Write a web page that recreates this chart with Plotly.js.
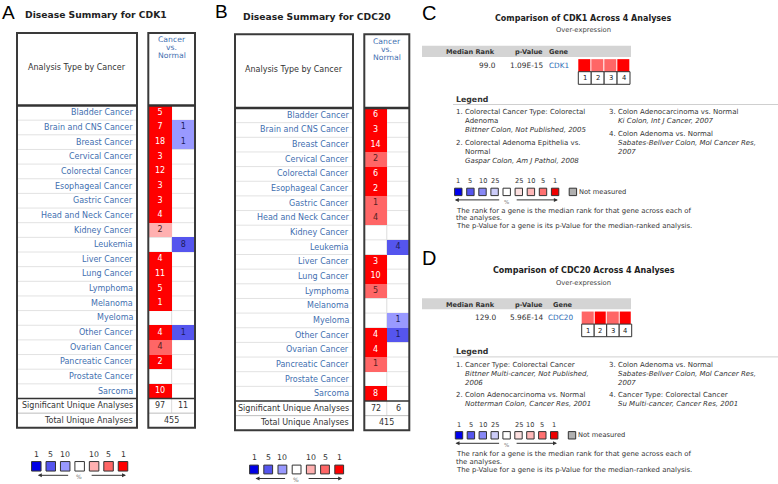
<!DOCTYPE html>
<html><head><meta charset="utf-8">
<script src="https://cdn.plot.ly/plotly-3.0.1.min.js"></script>
<style>html,body{margin:0;padding:0;background:#fff}#chart{width:778px;height:484px}</style>
</head><body><div id="chart"></div>
<script>
// ================= DATA =================
const cancers = ["Bladder Cancer","Brain and CNS Cancer","Breast Cancer","Cervical Cancer","Colorectal Cancer",
  "Esophageal Cancer","Gastric Cancer","Head and Neck Cancer","Kidney Cancer","Leukemia","Liver Cancer",
  "Lung Cancer","Lymphoma","Melanoma","Myeloma","Other Cancer","Ovarian Cancer","Pancreatic Cancer",
  "Prostate Cancer","Sarcoma"];

// CDK1: number of analyses (over / under expressed) and best gene-rank threshold (%)
const cdk1UpCount  = [5,7,18,3,12,3,3,4,2,null,4,11,5,1,null,4,4,2,null,10];
const cdk1UpRank   = [1,1,1,1,1,1,1,1,10,null,1,1,1,1,null,1,5,1,null,1];
const cdk1DownCount= [null,1,1,null,null,null,null,null,null,8,null,null,null,null,null,1,null,null,null,null];
const cdk1DownRank = [null,10,10,null,null,null,null,null,null,5,null,null,null,null,null,5,null,null,null,null];
const cdk1Significant = [97, 11];
const cdk1Total = 455;

// CDC20
const cdc20UpCount  = [6,3,14,2,6,2,1,4,null,null,3,10,5,null,null,4,4,1,null,8];
const cdc20UpRank   = [1,1,1,5,1,1,5,5,null,null,1,1,5,null,null,1,1,5,null,1];
const cdc20DownCount= [null,null,null,null,null,null,null,null,null,4,null,null,null,null,1,1,null,null,null,null];
const cdc20DownRank = [null,null,null,null,null,null,null,null,null,5,null,null,null,null,10,5,null,null,null,null];
const cdc20Significant = [72, 6];
const cdc20Total = 415;

// summary colour key
const summaryKeyLabels = ["1","5","10","","10","5","1"];
const summaryKeyColors = ["#0000e6","#5555ee","#9999ff","#ffffff","#ffb0b0","#ff6666","#ff0000"];

// comparison panels
const analysisIds = [1,2,3,4];
const cdk1AnalysisRank  = [1,5,5,1];
const cdc20AnalysisRank = [5,1,5,1];
const cdk1MedianRank = "99.0",  cdk1PValue = "1.09E-15";
const cdc20MedianRank = "129.0", cdc20PValue = "5.96E-14";
const cdk1AnalysisNames = [["Colorectal Cancer Type: Colorectal","Adenoma"],["Colorectal Adenoma Epithelia vs.","Normal"],["Colon Adenocarcinoma vs. Normal"],["Colon Adenoma vs. Normal"]];
const cdk1AnalysisRefs  = [["Bittner Colon, Not Published, 2005"],["Gaspar Colon, Am J Pathol, 2008"],["Ki Colon, Int J Cancer, 2007"],["Sabates-Bellver Colon, Mol Cancer Res,","2007"]];
const cdc20AnalysisNames = [["Cancer Type: Colorectal Cancer"],["Colon Adenocarcinoma vs. Normal"],["Colon Adenoma vs. Normal"],["Cancer Type: Colorectal Cancer"]];
const cdc20AnalysisRefs  = [["Bittner Multi-cancer, Not Published,","2006"],["Notterman Colon, Cancer Res, 2001"],["Sabates-Bellver Colon, Mol Cancer Res,","2007"],["Su Multi-cancer, Cancer Res, 2001"]];
const compareKeyLabels = ["1","5","10","25","","25","10","5","1"];
const compareKeyColors = ["#0000ee","#5555ee","#8888f5","#ccccf8","#ffffff","#fde0e0","#ffb8b8","#ff7070","#ee0000"];
const notMeasuredColor = "#b0b0b0";
const footNotes = ["The rank for a gene is the median rank for that gene across each of","the analyses.","The p-Value for a gene is its p-Value for the median-ranked analysis."];

// ================= DRAWING =================
const FONT = "DejaVu Sans, Verdana, sans-serif";
const BLUE = "#3f6fb0";
const DARK = "#333333";
const PAL = ["#0000ee","#5555ee","#9999ff","#ffffff","#ffb0b0","#ff6666","#ff0000"];
const codeOf = (dir, rank) => rank == null ? null : (dir === "up" ? {1:6,5:5,10:4}[rank] : {1:0,5:1,10:2}[rank]) + 0.5;
const stepScale = [];
PAL.forEach((c,i)=>{ stepScale.push([i/PAL.length,c]); stepScale.push([(i+1)/PAL.length,c]); });

const traces = [], shapes = [], annotations = [];
function txt(x,y,text,size,color,xa,family){
  annotations.push({x:x,y:y,xref:"x",yref:"y",text:text,showarrow:false,xanchor:xa||"left",yanchor:"middle",
    borderpad:0,borderwidth:0,font:{family:family||FONT,size:size,color:color}});
}
function line(x0,y0,x1,y1,color,width,layer){
  shapes.push({type:"line",xref:"x",yref:"y",x0:x0,y0:y0,x1:x1,y1:y1,line:{color:color,width:width},layer:layer||"above"});
}
function rect(x0,y0,x1,y1,lc,lw,fill,layer){
  shapes.push({type:"rect",xref:"x",yref:"y",x0:x0,y0:y0,x1:x1,y1:y1,line:{color:lc,width:lw},fillcolor:fill||"rgba(0,0,0,0)",layer:layer||"above"});
}
function arrow(hx,hy,tx,ty){
  annotations.push({x:hx,y:hy,ax:tx,ay:ty,xref:"x",yref:"y",axref:"x",ayref:"y",text:"",showarrow:true,
    arrowhead:2,arrowsize:0.8,arrowwidth:1,arrowcolor:DARK});
}

function summary(P, title, letter, up, upRank, down, downRank, sig, total){
  const n = cancers.length, h = P.rowH;
  const end = P.hdr + n*h, bottom = end + 2*h;
  const rc = i => P.hdr + (i+0.5)*h;
  const dx = (P.rx1 - P.rx0)/2;
  const cRed = P.rx0 + dx/2, cBlue = P.rx0 + 1.5*dx;
  txt(P.letterX, P.letterY, letter, 19, "#000", "left", "Liberation Sans, Arial, sans-serif");
  txt(P.titleX, P.titleY, "<b>"+title+"</b>", 9.2, "#222");
  for (let i=1;i<n;i++){ const y=P.hdr+i*h; line(P.lx0,y,P.lx1,y,"#e2e2e2",1,"below"); line(P.rx0,y,P.rx1,y,"#e2e2e2",1,"below"); }
  line(P.lx0,end+h,P.lx1,end+h,"#bdbdbd",1); line(P.rx0,end+h,P.rx1,end+h,"#bdbdbd",1);
  line(P.rx0+dx,P.hdr,P.rx0+dx,end+h,"#dcdcdc",1,"below");
  traces.push({type:"heatmap",x0:cRed,dx:dx,y0:rc(0),dy:h,
    z: cancers.map((_,i)=>[codeOf("up",upRank[i]), codeOf("down",downRank[i])]),
    colorscale:stepScale,zmin:0,zmax:PAL.length,showscale:false,hoverinfo:"skip"});
  const tx=[],ty=[],tt=[],tc=[];
  cancers.forEach((_,i)=>{
    if (up[i]!=null){ tx.push(cRed); ty.push(rc(i)); tt.push(String(up[i])); tc.push(upRank[i]===1?"#ffffff":"#552222"); }
    if (down[i]!=null){ tx.push(cBlue); ty.push(rc(i)); tt.push(String(down[i])); tc.push("#1c1c5a"); }
  });
  traces.push({type:"scatter",mode:"text",x:tx,y:ty,text:tt,textposition:"middle center",
    textfont:{family:FONT,size:8,color:tc},hoverinfo:"skip",cliponaxis:false});
  rect(P.lx0,P.top,P.lx1,bottom,"#3a3a3a",2); rect(P.rx0,P.top,P.rx1,bottom,"#3a3a3a",2);
  line(P.lx0,P.hdr,P.lx1,P.hdr,"#333",2.5); line(P.rx0,P.hdr,P.rx1,P.hdr,"#333",2.5);
  line(P.lx0,end,P.lx1,end,"#333",1.5); line(P.rx0,end,P.rx1,end,"#333",1.5);
  txt((P.lx0+P.lx1)/2, P.hdrTextY, "Analysis Type by Cancer", 8, DARK, "center");
  ["Cancer","vs.","Normal"].forEach((s,k)=>txt(P.rx0+dx, P.cvnY+k*8, s, 7.7, BLUE, "center"));
  cancers.forEach((c,i)=>txt(P.labelR, rc(i), c, 8, BLUE, "right"));
  txt(P.labelR, end+h/2, "Significant Unique Analyses", 8, DARK, "right");
  txt(cRed, end+h/2, String(sig[0]), 8, DARK, "center");
  txt(cBlue, end+h/2, String(sig[1]), 8, DARK, "center");
  txt(P.labelR, end+1.5*h, "Total Unique Analyses", 8, DARK, "right");
  txt(P.rx0+dx, end+1.5*h, String(total), 8, DARK, "center");
  // colour key
  const kx = summaryKeyColors.map((_,i)=>P.keyX0 + i*P.keyStep);
  traces.push({type:"scatter",mode:"markers",x:kx,y:kx.map(()=>P.keyY),
    marker:{symbol:"square",size:P.keySize,color:summaryKeyColors,line:{color:"#333",width:1}},hoverinfo:"skip",cliponaxis:false});
  summaryKeyLabels.forEach((s,i)=>{ if(s) txt(kx[i], P.keyY-12.3, s, 7.8, DARK, "center"); });
  const ay = P.keyY + 9;
  arrow(kx[0]+1.5, ay, kx[3]-10, ay);
  arrow(kx[6]+3, ay, kx[3]+10.5, ay);
  txt(kx[3]-0.5, ay+1.3, "%", 6, "#777", "center");
}

summary({letterX:2,letterY:12,titleX:25,titleY:14,lx0:17,lx1:137,rx0:148.3,rx1:195,top:33,hdr:105.5,rowH:14.65,
  labelR:133,hdrTextY:67.5,cvnY:39.7,keyX0:36.3,keyStep:14.45,keyY:466.3,keySize:9.5},
  "Disease Summary for CDK1","A",cdk1UpCount,cdk1UpRank,cdk1DownCount,cdk1DownRank,cdk1Significant,cdk1Total);
summary({letterX:215,letterY:11,titleX:243.3,titleY:16,lx0:235,lx1:353,rx0:364.3,rx1:409.3,top:34.3,hdr:108,rowH:14.65,
  labelR:349.3,hdrTextY:69.3,cvnY:41.3,keyX0:254,keyStep:14.2,keyY:469.5,keySize:8.8},
  "Disease Summary for CDC20","B",cdc20UpCount,cdc20UpRank,cdc20DownCount,cdc20DownRank,cdc20Significant,cdc20Total);

function compare(P, gene, median, pval, ranks, names, refs, letter){
  const T = P.T;
  txt(P.letterX, P.letterY, letter, 20, "#000", "left", "Liberation Sans, Arial, sans-serif");
  txt(583.5, T, "<b>Comparison of "+gene+" Across 4 Analyses</b>", 8, "#222", "center");
  txt(583.5, T+11.8, "Over-expression", 6.8, "#444", "center");
  rect(422, T+27.5, 631, T+38.6, "rgba(0,0,0,0)", 0, "#d4d4d4", "below");
  txt(494.8, T+34, "<b>Median Rank</b>", 6.6, DARK, "right");
  txt(543.3, T+34, "<b>p-Value</b>", 6.6, DARK, "right");
  txt(P.geneR, T+34, "<b>Gene</b>", 6.6, DARK, "right");
  txt(495.8, T+47.2, median, 7.4, DARK, "right");
  txt(543.3, T+47.2, pval, 7.4, DARK, "right");
  txt(P.geneR, T+47.2, gene, 7.3, "#2e6cb5", "right");
  const cw = (P.cellX1 - P.cellX0)/analysisIds.length;
  traces.push({type:"heatmap",x0:P.cellX0+cw/2,dx:cw,y0:T+47.1,dy:12.5,xgap:1,
    z:[ranks.map(r=>codeOf("up",r))],colorscale:stepScale,zmin:0,zmax:PAL.length,showscale:false,hoverinfo:"skip"});
  analysisIds.forEach((id,i)=>{
    rect(P.cellX0+i*cw, T+53.4, P.cellX0+(i+1)*cw, T+66, "#333", 1, "#fff");
    txt(P.cellX0+(i+0.5)*cw, T+59.8, String(id), 6.8, "#222", "center");
  });
  txt(456, T+80.8, "<b>Legend</b>", 7.8, DARK, "left");
  line(453, T+86.2, 778, T+86.2, "#cfcfcf", 1);
  const colX = [455.5, 609], LS = 9, GAP = 12.3;
  let last = 0;
  [[0,1],[2,3]].forEach((idx,col)=>{
    let y = T+94;
    idx.forEach((k,j)=>{
      if (j>0) y += GAP - LS;
      names[k].forEach((s,m)=>{ txt(m===0?colX[col]:colX[col]+9, y, m===0?(k+1)+". "+s:s, 7, DARK, "left"); y += LS; });
      refs[k].forEach(s=>{ txt(colX[col]+9, y, "<i>"+s+"</i>", 7, DARK, "left"); y += LS; });
    });
    last = Math.max(last, y - LS);
  });
  const ky = last + 31.3;
  const kx = compareKeyColors.map((_,i)=>P.keyX0 + i*P.keyStep);
  const gx = kx[kx.length-1] + 17.8;
  traces.push({type:"scatter",mode:"markers",x:kx.concat([gx]),y:kx.concat([gx]).map(()=>ky),
    marker:{symbol:"square",size:7.4,color:compareKeyColors.concat([notMeasuredColor]),line:{color:"#333",width:1}},hoverinfo:"skip",cliponaxis:false});
  compareKeyLabels.forEach((s,i)=>{ if(s) txt(kx[i], ky-10.7, s, 6.6, DARK, "center"); });
  txt(gx+6, ky, "Not measured", 6.7, DARK, "left");
  arrow(kx[0]-3.5, ky+8, kx[4]-6, ky+8);
  arrow(kx[8]+2.8, ky+8, kx[4]+8.5, ky+8);
  txt(kx[4], ky+10, "%", 5.5, "#777", "center");
  footNotes.forEach((s,i)=>txt(455.5, ky+18.6+i*7.9, s, 6.9, DARK, "left"));
}

compare({T:18.3,letterX:422,letterY:12.5,geneR:568.5,cellX0:578.3,cellX1:630,keyX0:458.3,keyStep:12.1},
  "CDK1",cdk1MedianRank,cdk1PValue,cdk1AnalysisRank,cdk1AnalysisNames,cdk1AnalysisRefs,"C");
compare({T:270.7,letterX:422,letterY:258,geneR:572.5,cellX0:581.7,cellX1:631.7,keyX0:459,keyStep:11.9},
  "CDC20",cdc20MedianRank,cdc20PValue,cdc20AnalysisRank,cdc20AnalysisNames,cdc20AnalysisRefs,"D");

const layout = {
  width:778, height:484, margin:{l:0,r:0,t:0,b:0}, paper_bgcolor:"#fff", plot_bgcolor:"#fff", showlegend:false,
  xaxis:{range:[0,778],visible:false,fixedrange:true,autorange:false},
  yaxis:{range:[484,0],visible:false,fixedrange:true,autorange:false},
  shapes:shapes, annotations:annotations
};
Plotly.newPlot("chart", traces, layout, {staticPlot:true, displayModeBar:false});
</script>
</body></html>
